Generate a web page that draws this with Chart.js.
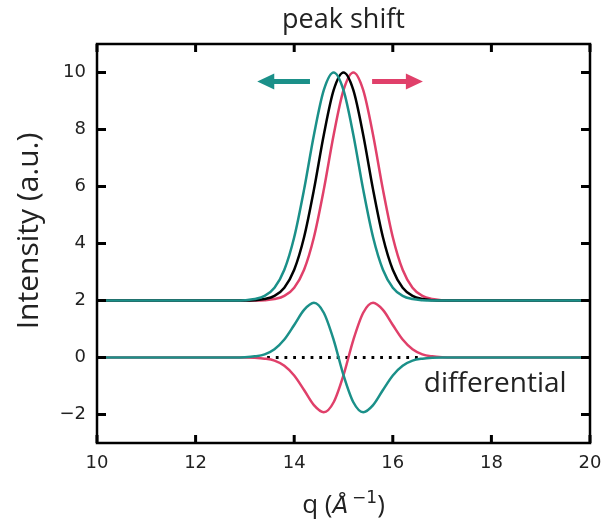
<!DOCTYPE html>
<html>
<head>
<meta charset="utf-8">
<script src="https://cdn.jsdelivr.net/npm/chart.js@4.4.1/dist/chart.umd.min.js"></script>
<style>
  html, body { margin: 0; padding: 0; background: #fff; }
  #wrap { width: 603px; height: 522px; }
</style>
</head>
<body>
<div id="wrap"><canvas id="chart"></canvas></div>
<script>
const qValues = [10, 12.4, 12.6, 12.8, 13.0, 13.2, 13.4, 13.6, 13.8, 14.0, 14.2, 14.4, 14.6, 14.8,
  15.0, 15.2, 15.4, 15.6, 15.8, 16.0, 16.2, 16.4, 16.6, 16.8, 17.0, 17.2, 17.4, 17.6, 20];

// original peak (black), shifted down (teal), shifted up (red)
const peakOriginal = [2, 2, 2, 2, 2.00, 2.01, 2.05, 2.16, 2.45, 3.08, 4.22, 5.89, 7.81, 9.38,
  10.0, 9.38, 7.81, 5.89, 4.22, 3.08, 2.45, 2.16, 2.05, 2.01, 2.00, 2, 2, 2, 2];
const peakLow = [2, 2, 2, 2, 2.01, 2.05, 2.16, 2.45, 3.08, 4.22, 5.89, 7.81, 9.38, 10.0,
  9.38, 7.81, 5.89, 4.22, 3.08, 2.45, 2.16, 2.05, 2.01, 2.00, 2, 2, 2, 2, 2];
const peakHigh = [2, 2, 2, 2, 2, 2.00, 2.01, 2.05, 2.16, 2.45, 3.08, 4.22, 5.89, 7.81,
  9.38, 10.0, 9.38, 7.81, 5.89, 4.22, 3.08, 2.45, 2.16, 2.05, 2.01, 2.00, 2, 2, 2];

// differentials (shifted minus original)
const diffLow = [0, 0, 0, 0, 0.01, 0.04, 0.11, 0.29, 0.63, 1.14, 1.67, 1.92, 1.57, 0.62,
  -0.62, -1.57, -1.92, -1.67, -1.14, -0.63, -0.29, -0.11, -0.04, -0.01, 0, 0, 0, 0, 0];
const diffHigh = [0, 0, 0, 0, 0, -0.01, -0.04, -0.11, -0.29, -0.63, -1.14, -1.67, -1.92, -1.57,
  -0.62, 0.62, 1.57, 1.92, 1.67, 1.14, 0.63, 0.29, 0.11, 0.04, 0.01, 0, 0, 0, 0];

const zeroLineQ = [13.45, 16.55];
const zeroLineY = [0, 0];

const xTicks = [10, 12, 14, 16, 18, 20];
const yTicks = [-2, 0, 2, 4, 6, 8, 10];

// arrows: [tail, head] in data units
const arrowLow = [[14.32, 9.68], [13.25, 9.68]];
const arrowHigh = [[15.58, 9.68], [16.61, 9.68]];

const TEAL = '#1b9089';
const RED = '#e0406a';

function pts(ys) {
  return qValues.map((q, i) => ({x: q, y: ys[i]}));
}

function curve(data, color, order) {
  return {
    data: pts(data),
    borderColor: color,
    borderWidth: 2.5,
    pointRadius: 0,
    fill: false,
    cubicInterpolationMode: 'monotone',
    order: order
  };
}

const frameAndExtras = {
  id: 'frameAndExtras',
  afterDatasetsDraw(chart) {
    const ctx = chart.ctx;
    const xs = chart.scales.x, ys = chart.scales.y;
    const a = chart.chartArea;

    // arrows
    function arrow(p, color) {
      const x0 = xs.getPixelForValue(p[0][0]), y0 = ys.getPixelForValue(p[0][1]);
      const x1 = xs.getPixelForValue(p[1][0]), y1 = ys.getPixelForValue(p[1][1]);
      const dir = Math.sign(x1 - x0);
      const headLen = 17;
      ctx.save();
      ctx.strokeStyle = color;
      ctx.fillStyle = color;
      ctx.lineWidth = 5;
      ctx.beginPath();
      ctx.moveTo(x0, y0);
      ctx.lineTo(x1 - dir * (headLen - 2), y1);
      ctx.stroke();
      ctx.beginPath();
      ctx.moveTo(x1, y1);
      ctx.lineTo(x1 - dir * headLen, y1 - 8);
      ctx.lineTo(x1 - dir * headLen, y1 + 8);
      ctx.closePath();
      ctx.fill();
      ctx.restore();
    }
    arrow(arrowLow, TEAL);
    arrow(arrowHigh, RED);

    // frame with inward ticks on all four sides
    ctx.save();
    ctx.strokeStyle = '#000';
    ctx.lineWidth = 2.5;
    ctx.strokeRect(a.left, a.top, a.right - a.left, a.bottom - a.top);
    ctx.lineWidth = 3;
    ctx.beginPath();
    xTicks.forEach(v => {
      const px = xs.getPixelForValue(v);
      ctx.moveTo(px, a.bottom); ctx.lineTo(px, a.bottom - 8);
      ctx.moveTo(px, a.top); ctx.lineTo(px, a.top + 8);
    });
    yTicks.forEach(v => {
      const py = ys.getPixelForValue(v);
      ctx.moveTo(a.left, py); ctx.lineTo(a.left + 9, py);
      ctx.moveTo(a.right, py); ctx.lineTo(a.right - 9, py);
    });
    ctx.stroke();
    ctx.restore();
  },
  afterDraw(chart) {
    const ctx = chart.ctx;
    const a = chart.chartArea;
    const xs = chart.scales.x, ys = chart.scales.y;
    const cx = (a.left + a.right) / 2;
    ctx.save();
    ctx.fillStyle = '#222';
    ctx.textBaseline = 'alphabetic';

    // title
    ctx.font = '27px "Open Sans"';
    ctx.textAlign = 'center';
    ctx.fillText('peak shift', cx, 28);

    // y axis label
    ctx.save();
    ctx.translate(38, 231);
    ctx.rotate(-Math.PI / 2);
    ctx.font = '30px "Open Sans"';
    ctx.textAlign = 'center';
    ctx.fillText('Intensity (a.u.)', 0, 0);
    ctx.restore();

    // label inside the plot
    ctx.font = '28px "Open Sans"';
    ctx.textAlign = 'left';
    ctx.fillText('differential', xs.getPixelForValue(16.63), ys.getPixelForValue(-1.22));

    // x axis label: q (Å^-1)
    const parts = [
      {t: 'q (', f: '26px "Open Sans"', dy: 0},
      {t: 'Å', f: 'italic 23px "DejaVu Sans"', dy: 0},
      {t: ' ', f: '12px "DejaVu Sans"', dy: 0},
      {t: '\u22121', f: '17px "DejaVu Sans"', dy: -10},
      {t: ')', f: '26px "Open Sans"', dy: 0}
    ];
    let w = 0;
    parts.forEach(p => { ctx.font = p.f; p.w = ctx.measureText(p.t).width; w += p.w; });
    let x = cx - w / 2;
    const base = 513;
    parts.forEach(p => {
      ctx.font = p.f;
      ctx.fillText(p.t, x, base + p.dy);
      x += p.w;
    });
    ctx.restore();
  }
};

new Chart(document.getElementById('chart'), {
  type: 'line',
  data: {
    datasets: [
      curve(peakLow, TEAL, 0),
      curve(diffLow, TEAL, 1),
      curve(peakOriginal, '#000', 2),
      curve(peakHigh, RED, 3),
      curve(diffHigh, RED, 4),
      {
        data: zeroLineQ.map((q, i) => ({x: q, y: zeroLineY[i]})),
        borderColor: '#000',
        borderWidth: 2.8,
        borderDash: [2.8, 5.9],
        pointRadius: 0,
        fill: false,
        order: 5
      }
    ]
  },
  options: {
    responsive: true,
    maintainAspectRatio: false,
    animation: false,
    layout: { padding: { top: 44, right: 13, bottom: 0, left: 0 } },
    plugins: {
      legend: { display: false },
      tooltip: { enabled: false },
      title: { display: false }
    },
    scales: {
      x: {
        type: 'linear',
        min: 10,
        max: 20,
        afterBuildTicks: s => { s.ticks = xTicks.map(v => ({value: v})); },
        afterFit: s => { s.height = 79; s.paddingLeft = 0; s.paddingRight = 0; },
        ticks: {
          font: { family: 'DejaVu Sans', size: 18 },
          color: '#222',
          padding: 10,
          maxRotation: 0
        },
        grid: { display: false, drawTicks: false },
        border: { display: false }
      },
      y: {
        type: 'linear',
        min: -3,
        max: 11,
        afterBuildTicks: s => { s.ticks = yTicks.map(v => ({value: v})); },
        afterFit: s => { s.width = 97; s.paddingTop = 0; s.paddingBottom = 0; },
        ticks: {
          font: { family: 'DejaVu Sans', size: 18 },
          color: '#222',
          padding: 11,
          callback: v => String(v).replace('-', '\u2212')
        },
        grid: { display: false, drawTicks: false },
        border: { display: false }
      }
    }
  },
  plugins: [frameAndExtras]
});
</script>
</body>
</html>
